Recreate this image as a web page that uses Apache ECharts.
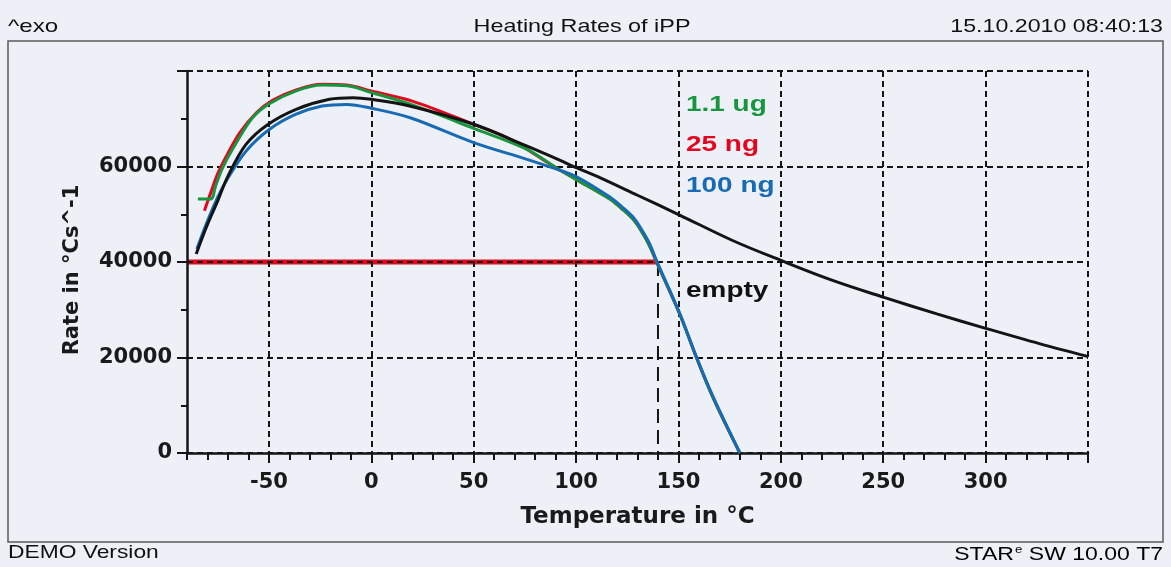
<!DOCTYPE html>
<html>
<head>
<meta charset="utf-8">
<script src="https://cdn.jsdelivr.net/npm/echarts@6/dist/echarts.min.js"></script>
<style>
html, body { margin: 0; padding: 0; background: #edf1f7; }
#chart { width: 1171px; height: 567px; }
</style>
</head>
<body>
<div id="chart"></div>
<script>
// x: temperature in °C, y: rate
var empty = [[-85.5, 41670], [-80.6, 47230], [-75, 52810], [-70, 58000], [-61.1, 64670], [-50.5, 68800],
    [-36.7, 71980], [-20.4, 74070], [-9, 74400], [0, 74070], [18.7, 72670], [50, 68840], [75.8, 64300],
    [92, 61320], [100, 59770], [111.6, 57680], [130, 53980], [150.3, 49890], [176.7, 44450],
    [200.4, 40270], [225.6, 36100], [250.4, 32600], [276.2, 29130], [300.9, 26000], [326.6, 22860], [350, 20210]];
var ug11 = [[-84.7, 53170], [-78.5, 53170], [-76, 56000], [-72.5, 59800], [-66, 64900], [-58, 70200],
    [-50, 73100], [-37, 75800], [-24, 77050], [-12, 76900], [0, 75500], [20, 72900], [50, 68000],
    [76, 63600], [90, 59800], [100, 57300], [116.5, 53200], [122, 51300], [128, 48900], [132, 46400],
    [136, 43300], [139.3, 40000], [150.7, 29000], [158.8, 20000], [167, 11500], [180, 0]];
var ng25 = [[-81.5, 50720], [-78, 55000], [-75, 58500], [-70, 62800], [-64, 67200], [-56, 71300],
    [-48, 73900], [-37, 76000], [-24, 77200], [-12, 77050], [0, 75800], [20, 73700], [50, 68840],
    [68, 65700], [80, 62500], [90, 59800], [100, 57300], [116.5, 53200], [122, 51300], [128, 48900],
    [132, 46400], [136, 43300], [139.3, 40000], [150.7, 29000], [158.8, 20000], [167, 11500], [180, 0]];
var ng100 = [[-85.2, 42720], [-80.6, 47950], [-75, 53600], [-70, 57600], [-61, 63300], [-50, 67700],
    [-37, 70900], [-24, 72650], [-12, 73000], [0, 72200], [19, 70200], [50, 65000], [76, 61500],
    [88, 59800], [100, 57900], [116.5, 53600], [122, 51700], [128, 49320], [132, 46800], [136, 43760],
    [139.3, 40270], [150.7, 29130], [158.8, 20060], [167, 11700], [180, 0]];
var baseline = [[-90, 40000], [140, 40000]];
var cutoff = [[140, 40000], [140, 0]];
var gridX = [-50, 0, 50, 100, 150, 200, 250, 300, 350];

var colors = {black: '#141414', green: '#17963f', red: '#e4061f', blue: '#176ab3'};
var dashed = {color: '#151515', width: 2, type: [6, 4]};
var font = 'Liberation Sans, Arial, sans-serif';
var boldFont = 'DejaVu Sans, sans-serif';

var chart = echarts.init(document.getElementById('chart'));

function curve(name, data, color, z) {
    return {
        name: name,
        type: 'line',
        data: data,
        smooth: 0.35,
        showSymbol: false,
        z: z,
        lineStyle: {color: color, width: 3}
    };
}

// stretched text, anchored at (x, y)
function label(text, x, y, size, color, bold, align, sx) {
    return {
        type: 'text', x: x, y: y, scaleX: sx || 1.27,
        style: {
            text: text, x: 0, y: 0,
            font: (bold ? 'bold ' : '') + size + 'px ' + font,
            fill: color, align: align || 'left', verticalAlign: 'middle'
        }
    };
}

var option = {
    backgroundColor: '#edf1f7',
    animation: false,
    grid: {left: 187, right: 83, top: 71, bottom: 114},
    xAxis: [{
        type: 'value',
        min: -90,
        max: 350,
        interval: 10,
        name: 'Temperature in °C',
        nameLocation: 'middle',
        nameGap: 53,
        nameTextStyle: {fontFamily: boldFont, fontSize: 23, fontWeight: 'bold', color: '#1a1a1a'},
        axisLine: {show: true, onZero: false, lineStyle: {color: '#151515', width: 2.5}},
        axisTick: {length: 7, lineStyle: {color: '#151515', width: 2}},
        axisLabel: {
            margin: 19,
            fontFamily: boldFont, fontSize: 21, fontWeight: 'bold', color: '#1a1a1a',
            formatter: function (v) { return (v % 50 === 0 && v !== 350) ? String(v) : ''; }
        },
        splitLine: {show: false}
    }, {
        type: 'value',
        min: -90,
        max: 350,
        position: 'bottom',
        axisLine: {show: false, onZero: false},
        axisLabel: {show: false},
        axisTick: {show: true, customValues: gridX, length: 10, lineStyle: {color: '#151515', width: 2}},
        splitLine: {show: true, lineStyle: dashed}
    }],
    yAxis: {
        type: 'value',
        min: 0,
        max: 80000,
        interval: 20000,
        name: 'Rate in °Cs^-1',
        nameLocation: 'middle',
        nameGap: 104,
        nameTextStyle: {fontFamily: boldFont, fontSize: 21, fontWeight: 'bold', color: '#1a1a1a', padding: [0, 16, 0, 0]},
        axisLine: {show: true, onZero: false, lineStyle: {color: '#151515', width: 2.5}},
        axisTick: {show: true, length: 10, lineStyle: {color: '#151515', width: 2}},
        minorTick: {show: true, splitNumber: 2, length: 6, lineStyle: {color: '#151515', width: 2}},
        axisLabel: {
            margin: 15,
            fontFamily: boldFont, fontSize: 21, fontWeight: 'bold', color: '#1a1a1a',
            formatter: function (v) { return v === 80000 ? '' : String(v); }
        },
        splitLine: {show: true, lineStyle: dashed}
    },
    series: [
        {
            name: 'baseline', type: 'line', data: baseline, showSymbol: false, z: -1,
            lineStyle: {color: colors.red, width: 5}
        },
        {
            name: 'cutoff', type: 'line', data: cutoff, showSymbol: false, z: 1,
            lineStyle: {color: '#151515', width: 2, type: [14, 7]}
        },
        curve('25 ng', ng25, colors.red, 2),
        curve('1.1 ug', ug11, colors.green, 3),
        curve('100 ng', ng100, colors.blue, 4),
        curve('empty', empty, colors.black, 5)
    ],
    graphic: [
        {type: 'rect', shape: {x: 8, y: 41, width: 1155, height: 501}, style: {fill: null, stroke: '#5a5a5a', lineWidth: 1.5}, z: -10},
        label('^exo', 8, 27, 19, '#111', false),
        label('Heating Rates of iPP', 582, 27, 19, '#111', false, 'center', 1.23),
        label('15.10.2010 08:40:13', 1163, 27, 19, '#111', false, 'right', 1.22),
        label('DEMO Version', 8, 553, 19, '#111', false, 'left', 1.2),
        {
            type: 'text', x: 1163, y: 553, scaleX: 1.21,
            style: {
                x: 0, y: 0, align: 'right', verticalAlign: 'middle',
                text: '{k|S}{r|TA}{k|R}{s|e}{k| SW 10.00 T7}',
                rich: {
                    k: {fontFamily: font, fontSize: 19, color: '#111', padding: [3, 0, 0, 0]},
                    r: {fontFamily: font, fontSize: 19, color: '#e4061f', padding: [3, 0, 0, 0]},
                    s: {fontFamily: font, fontSize: 11, color: '#c0102a', padding: [0, 0, 7, 1]}
                }
            }
        },
        label('1.1 ug', 686, 105, 22, colors.green, true),
        label('25 ng', 686, 145, 22, colors.red, true),
        label('100 ng', 686, 186, 22, colors.blue, true),
        label('empty', 686, 291, 22, '#111', true)
    ]
};

chart.setOption(option);
</script>
</body>
</html>
